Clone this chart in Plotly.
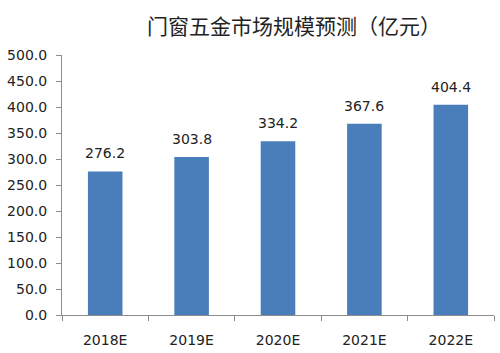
import plotly.graph_objects as go

categories = ["2018E", "2019E", "2020E", "2021E", "2022E"]
values = [276.2, 303.8, 334.2, 367.6, 404.4]
y_ticks = [0, 50, 100, 150, 200, 250, 300, 350, 400, 450, 500]
title_text = "门窗五金市场规模预测（亿元）"

fig = go.Figure(go.Bar(
    x=categories, y=values,
    marker=dict(color="#4a7ebb", line=dict(width=0)),
))

for c, v in zip(categories, values):
    fig.add_annotation(
        x=c, y=v, text=f"{v:.1f}", showarrow=False,
        yanchor="bottom", yshift=8,
        font=dict(family="DejaVu Sans", size=14, color="#222222"),
    )

fig.update_layout(
    width=500, height=353,
    margin=dict(l=62, r=6, t=55, b=38),
    paper_bgcolor="white", plot_bgcolor="white",
    bargap=0.6,
    showlegend=False,
    title=dict(text=title_text, x=0.588, xanchor="center", y=0.925, yanchor="middle",
               font=dict(family="Noto Sans CJK SC", size=21, color="#222222")),
    font=dict(family="DejaVu Sans", size=13, color="#222222"),
)
fig.update_xaxes(
    showline=True, linecolor="#8c8c8c", linewidth=1,
    ticks="outside", ticklen=5, tickcolor="#8c8c8c", tickson="boundaries",
    showgrid=False, tickfont=dict(size=14), ticklabelstandoff=12,
)
fig.update_yaxes(
    range=[0, 500], tickvals=y_ticks, tickformat=".1f",
    showline=True, linecolor="#8c8c8c", linewidth=1,
    ticks="outside", ticklen=5, tickcolor="#8c8c8c",
    showgrid=False, zeroline=False, tickfont=dict(size=14), ticklabelstandoff=6,
)

fig.write_html("out.html")
